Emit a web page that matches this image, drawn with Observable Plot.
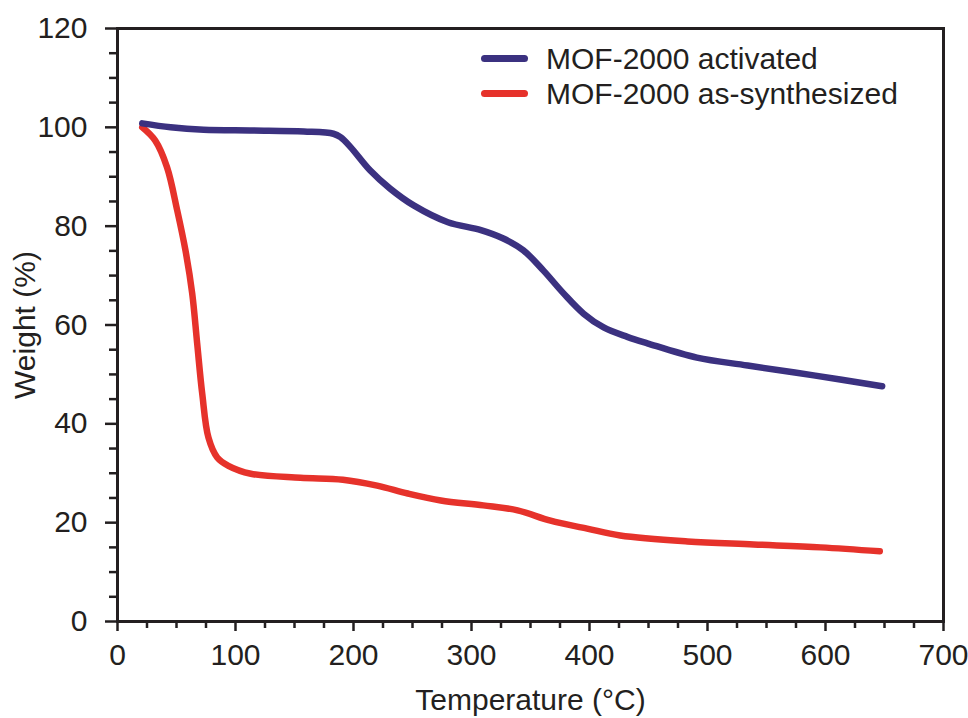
<!DOCTYPE html>
<html>
<head>
<meta charset="utf-8">
<script src="https://cdn.jsdelivr.net/npm/d3@7"></script>
<script src="https://cdn.jsdelivr.net/npm/@observablehq/plot@0.6"></script>
<style>
  html, body { margin: 0; padding: 0; background: #fff; }
  #wrap { position: relative; width: 968px; height: 718px; font-family: "Liberation Sans", Arial, sans-serif; color: #231f20; }
  #legend { position: absolute; left: 481px; top: 41px; font-size: 30px; line-height: 35px; }
  .item { display: flex; align-items: center; white-space: nowrap; }
  .swatch { width: 47px; height: 7px; border-radius: 4px; margin-right: 18px; }
</style>
</head>
<body>
<div id="wrap"></div>
<script>
// ---- data ----
const seriesNames = ["MOF-2000 activated", "MOF-2000 as-synthesized"];
const seriesColors = ["#3b3180", "#e6322b"];

const tempActivated = [21, 45, 73, 115, 158, 183, 189, 197.5, 214, 231, 251, 280, 308, 327, 344, 361, 378, 395, 412, 432, 449, 491, 534, 590, 648];
const weightActivated = [100.8, 100.0, 99.5, 99.35, 99.15, 98.7, 98.0, 96.0, 91.3, 87.6, 84.2, 80.8, 79.2, 77.5, 75.1, 71.0, 66.4, 62.3, 59.5, 57.6, 56.3, 53.4, 51.8, 49.8, 47.6];

const tempSynth = [21, 32, 42, 50.6, 57.6, 63.3, 67.5, 71.8, 77.1, 84.5, 94, 113, 155, 191, 220, 246, 274, 310, 339, 367, 398, 426, 483, 539, 596, 646];
const weightSynth = [100, 97.3, 91.9, 83.2, 75.1, 66.4, 56.3, 46.1, 37.2, 33.2, 31.5, 29.9, 29.1, 28.7, 27.5, 25.9, 24.5, 23.5, 22.5, 20.4, 18.8, 17.4, 16.2, 15.6, 15.0, 14.2];

const xMajorTicks = [0, 100, 200, 300, 400, 500, 600, 700];
const xMinorTicks = [25, 50, 75, 125, 150, 175, 225, 250, 275, 325, 350, 375, 425, 450, 475, 525, 550, 575, 625, 650, 675];
const yMajorTicks = [0, 20, 40, 60, 80, 100, 120];
const yMinorTicks = [5, 10, 15, 25, 30, 35, 45, 50, 55, 65, 70, 75, 85, 90, 95, 105, 110, 115];

const xLabel = "Temperature (°C)";
const yLabel = "Weight (%)";

// ---- build table ----
const activated = tempActivated.map((t, i) => ({T: t, W: weightActivated[i], s: seriesNames[0]}));
const synth = tempSynth.map((t, i) => ({T: t, W: weightSynth[i], s: seriesNames[1]}));

const ink = "#231f20";

const chart = Plot.plot({
  width: 968,
  height: 718,
  marginLeft: 117,
  marginRight: 25,
  marginTop: 28,
  marginBottom: 97,
  style: {fontFamily: "'Liberation Sans', Arial, sans-serif", fontSize: "30px", color: ink, background: "#fff"},
  x: {domain: [0, 700]},
  y: {domain: [0, 120]},
  marks: [
    Plot.line(synth, {x: "T", y: "W", stroke: seriesColors[1], strokeWidth: 6.5, curve: "catmull-rom", strokeLinecap: "round"}),
    Plot.line(activated, {x: "T", y: "W", stroke: seriesColors[0], strokeWidth: 6.5, curve: "catmull-rom", strokeLinecap: "round"}),
    Plot.axisX(xMinorTicks, {tickSize: 7, text: null, label: null, stroke: ink, strokeWidth: 2.5}),
    Plot.axisY(yMinorTicks, {tickSize: 8, text: null, label: null, stroke: ink, strokeWidth: 2.5}),
    Plot.axisX(xMajorTicks, {tickSize: 10, tickPadding: 12, stroke: ink, strokeWidth: 2.5, fill: ink,
      label: xLabel, labelAnchor: "center", labelOffset: 88, labelArrow: "none"}),
    Plot.axisY(yMajorTicks, {tickSize: 12, tickPadding: 18, stroke: ink, strokeWidth: 2.5, fill: ink,
      label: yLabel, labelAnchor: "center", labelOffset: 104, labelArrow: "none"}),
    Plot.frame({stroke: ink, strokeWidth: 3})
  ]
});

const wrap = document.getElementById("wrap");
wrap.appendChild(chart);

const legend = document.createElement("div");
legend.id = "legend";
seriesNames.forEach((name, i) => {
  const item = document.createElement("div");
  item.className = "item";
  const sw = document.createElement("div");
  sw.className = "swatch";
  sw.style.background = seriesColors[i];
  const label = document.createElement("span");
  label.textContent = name;
  item.appendChild(sw);
  item.appendChild(label);
  legend.appendChild(item);
});
wrap.appendChild(legend);
</script>
</body>
</html>
